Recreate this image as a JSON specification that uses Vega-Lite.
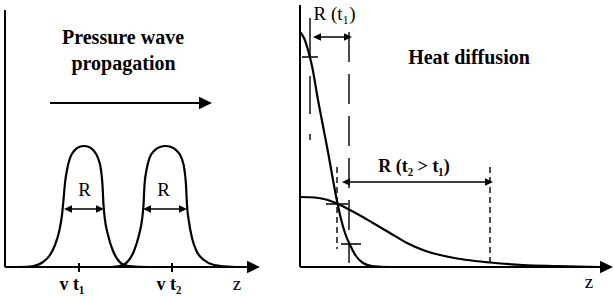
{
  "$schema": "https://vega.github.io/schema/vega-lite/v6.json",
  "width": 614,
  "height": 296,
  "padding": 0,
  "autosize": {"type": "fit", "contains": "padding"},
  "background": "white",
  "config": {"view": {"stroke": null}},
  "layer": [
    {
      "data": {"values": [
        {"curve": "p1", "z": 13, "v": 267}, {"curve": "p1", "z": 30, "v": 266.5}, {"curve": "p1", "z": 43, "v": 262}, {"curve": "p1", "z": 50, "v": 255}, {"curve": "p1", "z": 55, "v": 245}, {"curve": "p1", "z": 59, "v": 232}, {"curve": "p1", "z": 62, "v": 215}, {"curve": "p1", "z": 63.5, "v": 200}, {"curve": "p1", "z": 65, "v": 183}, {"curve": "p1", "z": 67, "v": 170}, {"curve": "p1", "z": 70, "v": 158}, {"curve": "p1", "z": 74, "v": 151}, {"curve": "p1", "z": 79, "v": 147}, {"curve": "p1", "z": 84, "v": 146}, {"curve": "p1", "z": 89, "v": 147}, {"curve": "p1", "z": 94, "v": 151}, {"curve": "p1", "z": 98, "v": 158}, {"curve": "p1", "z": 101, "v": 170}, {"curve": "p1", "z": 102.5, "v": 185}, {"curve": "p1", "z": 103.5, "v": 205}, {"curve": "p1", "z": 105, "v": 220}, {"curve": "p1", "z": 108, "v": 235}, {"curve": "p1", "z": 113, "v": 251}, {"curve": "p1", "z": 118, "v": 260}, {"curve": "p1", "z": 124, "v": 265}, {"curve": "p1", "z": 135, "v": 266.5}, {"curve": "p1", "z": 155, "v": 267},
        {"curve": "p2", "z": 112, "v": 267}, {"curve": "p2", "z": 123, "v": 265}, {"curve": "p2", "z": 129, "v": 260}, {"curve": "p2", "z": 134, "v": 251}, {"curve": "p2", "z": 139, "v": 235}, {"curve": "p2", "z": 142, "v": 220}, {"curve": "p2", "z": 143.5, "v": 205}, {"curve": "p2", "z": 144.5, "v": 185}, {"curve": "p2", "z": 146.5, "v": 170}, {"curve": "p2", "z": 149.5, "v": 158}, {"curve": "p2", "z": 154, "v": 151}, {"curve": "p2", "z": 160, "v": 147}, {"curve": "p2", "z": 165.5, "v": 146}, {"curve": "p2", "z": 171, "v": 147}, {"curve": "p2", "z": 177, "v": 151}, {"curve": "p2", "z": 181.5, "v": 158}, {"curve": "p2", "z": 184.5, "v": 170}, {"curve": "p2", "z": 186, "v": 185}, {"curve": "p2", "z": 187, "v": 205}, {"curve": "p2", "z": 189, "v": 222}, {"curve": "p2", "z": 192, "v": 238}, {"curve": "p2", "z": 197, "v": 252}, {"curve": "p2", "z": 204, "v": 260}, {"curve": "p2", "z": 214, "v": 265}, {"curve": "p2", "z": 235, "v": 267},
        {"curve": "h1", "z": 300, "v": 32}, {"curve": "h1", "z": 304, "v": 38}, {"curve": "h1", "z": 308, "v": 50}, {"curve": "h1", "z": 312, "v": 66}, {"curve": "h1", "z": 318, "v": 100}, {"curve": "h1", "z": 323, "v": 126}, {"curve": "h1", "z": 328, "v": 152}, {"curve": "h1", "z": 333, "v": 180}, {"curve": "h1", "z": 337, "v": 201}, {"curve": "h1", "z": 341, "v": 219}, {"curve": "h1", "z": 345, "v": 233}, {"curve": "h1", "z": 350, "v": 245}, {"curve": "h1", "z": 356, "v": 256}, {"curve": "h1", "z": 363, "v": 263}, {"curve": "h1", "z": 372, "v": 266}, {"curve": "h1", "z": 390, "v": 267}, {"curve": "h1", "z": 420, "v": 267},
        {"curve": "h2", "z": 300, "v": 197}, {"curve": "h2", "z": 315, "v": 197.5}, {"curve": "h2", "z": 326, "v": 199.5}, {"curve": "h2", "z": 338, "v": 204}, {"curve": "h2", "z": 350, "v": 210}, {"curve": "h2", "z": 361, "v": 216}, {"curve": "h2", "z": 373, "v": 223}, {"curve": "h2", "z": 390, "v": 233}, {"curve": "h2", "z": 407, "v": 243}, {"curve": "h2", "z": 423, "v": 250}, {"curve": "h2", "z": 440, "v": 255}, {"curve": "h2", "z": 457, "v": 258.5}, {"curve": "h2", "z": 475, "v": 261}, {"curve": "h2", "z": 490, "v": 262.5}, {"curve": "h2", "z": 523, "v": 265}, {"curve": "h2", "z": 557, "v": 266}, {"curve": "h2", "z": 600, "v": 267}
      ]},
      "mark": {"type": "line", "interpolate": "monotone", "color": "black", "strokeWidth": 2.2},
      "encoding": {
        "x": {"field": "z", "type": "quantitative", "scale": {"domain": [0, 614], "nice": false, "zero": false}, "axis": null},
        "y": {"field": "v", "type": "quantitative", "scale": {"domain": [0, 296], "nice": false, "zero": false, "reverse": true}, "axis": null},
        "detail": {"field": "curve", "type": "nominal"}
      }
    },
    {
      "data": {"values": [
        {"x": 5, "y": 10, "x2": 5, "y2": 267},
        {"x": 5, "y": 267, "x2": 250, "y2": 267},
        {"x": 300, "y": 5, "x2": 300, "y2": 267},
        {"x": 300, "y": 267, "x2": 603, "y2": 267},
        {"x": 50, "y": 103, "x2": 200, "y2": 103},
        {"x": 79, "y": 263, "x2": 79, "y2": 272},
        {"x": 172, "y": 263, "x2": 172, "y2": 272}
      ]},
      "mark": {"type": "rule", "color": "black", "strokeWidth": 2},
      "encoding": {
        "x": {"field": "x", "type": "quantitative", "scale": {"domain": [0, 614], "nice": false, "zero": false}, "axis": null},
        "y": {"field": "y", "type": "quantitative", "scale": {"domain": [0, 296], "nice": false, "zero": false, "reverse": true}, "axis": null},
        "x2": {"field": "x2"},
        "y2": {"field": "y2"}
      }
    },
    {
      "data": {"values": [
        {"x": 66, "y": 209, "x2": 102, "y2": 209, "kind": "solid"},
        {"x": 145, "y": 209, "x2": 185, "y2": 209, "kind": "solid"},
        {"x": 316, "y": 37, "x2": 350, "y2": 37, "kind": "solid"},
        {"x": 344, "y": 182, "x2": 491, "y2": 182, "kind": "solid"},
        {"x": 302, "y": 57, "x2": 318, "y2": 57, "kind": "solid"},
        {"x": 326, "y": 204, "x2": 348, "y2": 204, "kind": "solid"},
        {"x": 341, "y": 244, "x2": 361, "y2": 244, "kind": "solid"},
        {"x": 310, "y": 18, "x2": 310, "y2": 140, "kind": "long"},
        {"x": 349, "y": 32, "x2": 349, "y2": 263, "kind": "medium"},
        {"x": 337, "y": 167, "x2": 337, "y2": 249, "kind": "short"},
        {"x": 490, "y": 167, "x2": 490, "y2": 262, "kind": "short"}
      ]},
      "mark": {"type": "rule", "color": "black", "strokeWidth": 1.4},
      "encoding": {
        "x": {"field": "x", "type": "quantitative", "scale": {"domain": [0, 614], "nice": false, "zero": false}, "axis": null},
        "y": {"field": "y", "type": "quantitative", "scale": {"domain": [0, 296], "nice": false, "zero": false, "reverse": true}, "axis": null},
        "x2": {"field": "x2"},
        "y2": {"field": "y2"},
        "strokeDash": {"field": "kind", "type": "nominal", "scale": {"domain": ["solid", "long", "medium", "short"], "range": [[1, 0], [38, 20], [30, 12], [6, 4]]}, "legend": null}
      }
    },
    {
      "data": {"values": [
        {"x": 260, "y": 267, "dir": "right"},
        {"x": 613, "y": 267, "dir": "right"},
        {"x": 212, "y": 103, "dir": "right"}
      ]},
      "mark": {"type": "point", "filled": true, "color": "black", "opacity": 1, "size": 169, "strokeWidth": 0},
      "encoding": {
        "x": {"field": "x", "type": "quantitative", "scale": {"domain": [0, 614], "nice": false, "zero": false}, "axis": null},
        "y": {"field": "y", "type": "quantitative", "scale": {"domain": [0, 296], "nice": false, "zero": false, "reverse": true}, "axis": null},
        "shape": {"field": "dir", "type": "nominal", "scale": {"domain": ["right", "left"], "range": ["M0,0L-2,-0.95L-2,0.95Z", "M0,0L2,-0.95L2,0.95Z"]}, "legend": null}
      }
    },
    {
      "data": {"values": [
        {"x": 64, "y": 209, "dir": "left"},
        {"x": 104, "y": 209, "dir": "right"},
        {"x": 143, "y": 209, "dir": "left"},
        {"x": 187, "y": 209, "dir": "right"},
        {"x": 313, "y": 37, "dir": "left"},
        {"x": 352, "y": 37, "dir": "right"},
        {"x": 342, "y": 182, "dir": "left"},
        {"x": 493, "y": 182, "dir": "right"}
      ]},
      "mark": {"type": "point", "filled": true, "color": "black", "opacity": 1, "size": 64, "strokeWidth": 0},
      "encoding": {
        "x": {"field": "x", "type": "quantitative", "scale": {"domain": [0, 614], "nice": false, "zero": false}, "axis": null},
        "y": {"field": "y", "type": "quantitative", "scale": {"domain": [0, 296], "nice": false, "zero": false, "reverse": true}, "axis": null},
        "shape": {"field": "dir", "type": "nominal", "scale": {"domain": ["right", "left"], "range": ["M0,0L-2,-0.95L-2,0.95Z", "M0,0L2,-0.95L2,0.95Z"]}, "legend": null}
      }
    },
    {
      "data": {"values": [
        {"x": 123, "y": 43.5, "label": "Pressure wave"},
        {"x": 123.5, "y": 70, "label": "propagation"},
        {"x": 469, "y": 64, "label": "Heat diffusion"}
      ]},
      "mark": {"type": "text", "font": "Liberation Serif", "fontWeight": "bold", "fontSize": 20, "align": "center", "baseline": "alphabetic", "color": "black"},
      "encoding": {
        "x": {"field": "x", "type": "quantitative", "scale": {"domain": [0, 614], "nice": false, "zero": false}, "axis": null},
        "y": {"field": "y", "type": "quantitative", "scale": {"domain": [0, 296], "nice": false, "zero": false, "reverse": true}, "axis": null},
        "text": {"field": "label"}
      }
    },
    {
      "data": {"values": [
        {"x": 84.5, "y": 196, "label": "R"},
        {"x": 163.5, "y": 196, "label": "R"},
        {"x": 334.5, "y": 20, "label": "R (t₁)"},
        {"x": 237, "y": 290, "label": "z"},
        {"x": 589, "y": 288, "label": "z"}
      ]},
      "mark": {"type": "text", "font": "Liberation Serif", "fontSize": 19, "align": "center", "baseline": "alphabetic", "color": "black"},
      "encoding": {
        "x": {"field": "x", "type": "quantitative", "scale": {"domain": [0, 614], "nice": false, "zero": false}, "axis": null},
        "y": {"field": "y", "type": "quantitative", "scale": {"domain": [0, 296], "nice": false, "zero": false, "reverse": true}, "axis": null},
        "text": {"field": "label"}
      }
    },
    {
      "data": {"values": [
        {"x": 414, "y": 172, "label": "R (t₂ > t₁)"},
        {"x": 72, "y": 290, "label": "v t₁"},
        {"x": 169, "y": 290, "label": "v t₂"}
      ]},
      "mark": {"type": "text", "font": "Liberation Serif", "fontWeight": "bold", "fontSize": 18, "align": "center", "baseline": "alphabetic", "color": "black"},
      "encoding": {
        "x": {"field": "x", "type": "quantitative", "scale": {"domain": [0, 614], "nice": false, "zero": false}, "axis": null},
        "y": {"field": "y", "type": "quantitative", "scale": {"domain": [0, 296], "nice": false, "zero": false, "reverse": true}, "axis": null},
        "text": {"field": "label"}
      }
    }
  ]
}
